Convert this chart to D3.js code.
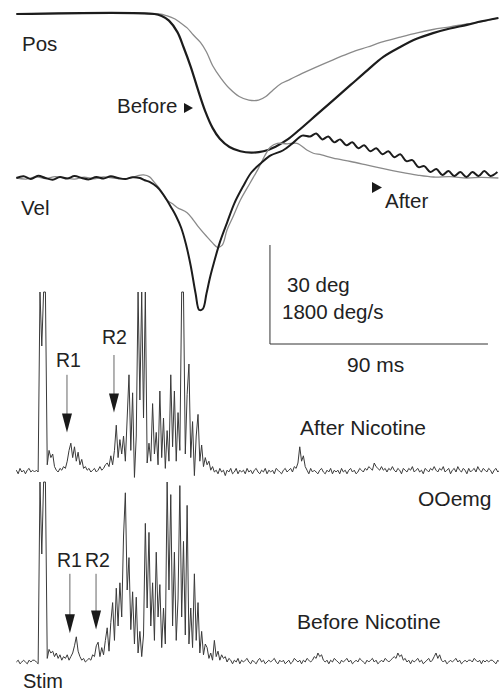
<!DOCTYPE html>
<html><head><meta charset="utf-8">
<script src="https://cdn.jsdelivr.net/npm/d3@7"></script>
<style>
html,body{margin:0;padding:0;background:#fff;}
svg{display:block;}
text{font-family:"Liberation Sans",Arial,Helvetica,sans-serif;fill:#222;}
</style></head><body>
<svg id="fig" width="499" height="693"></svg>
<script>
// Eye position (deg) against time from the stimulus (ms)
const posBefore = [[-11,0],[46,0],[49,-0.6],[52,-2],[55.5,-5.5],[58,-10],[61,-16],[64,-23],[67,-29.5],[70,-34.5],[73,-37.8],[77,-40.3],[81.5,-41.6],[86,-42],[91,-41.6],[96,-40.2],[101,-38],[106,-35],[113,-30.5],[120,-26],[127,-21.5],[134,-17],[140.5,-13],[147.5,-10],[154,-7.6],[161,-5.8],[168,-4.4],[175,-3.3],[181,-2.2],[188,-1.2]];
const posAfter = [[-11,0],[48,0],[51,-0.5],[54.5,-1.5],[57,-2.8],[59.5,-4.2],[62,-6.3],[65,-8.6],[67.5,-11.5],[70,-15.6],[73.5,-19.5],[77,-22.6],[81,-25],[85,-26.1],[89,-26.1],[92,-25],[95,-23],[98.5,-21],[102,-19.8],[107,-18],[113,-16],[120,-13.8],[127,-11.7],[134,-10],[140.5,-8.4],[147.5,-7],[154.5,-5.7],[161,-4.7],[168,-3.9],[175,-3],[181,-2.4],[188,-1.2]];

// Eye velocity (deg/s) against time (ms)
const velBefore = [[-11,0],[-8,30],[-5,-20],[-2,40],[1,0],[4,-30],[7,20],[10,-10],[13,35],[16,0],[19,-25],[22,20],[25,-10],[28,30],[31,0],[34,-20],[37,15],[40,0],[42,-40],[44,-72],[47,-160],[49,-260],[51,-390],[53,-540],[55,-700],[57,-900],[59,-1200],[61,-1600],[63,-2100],[64.5,-2400],[66,-2380],[67.5,-2100],[69,-1800],[70.5,-1550],[73,-1170],[76,-810],[79,-460],[82.5,-160],[86,100],[90,270],[94,410],[99,500],[103,630],[107,770],[110.3,756],[112.8,810],[115.3,702],[117.8,756],[120.2,648],[122.7,702],[125.2,594],[127.7,648],[130.2,540],[132.6,594],[135.1,486],[137.6,540],[140.1,432],[142.6,486],[145,378],[147.5,432],[150,306],[152.5,324],[155,198],[157.4,216],[159.9,108],[162.4,162],[164.9,54],[167.4,126],[169.8,36],[172.3,108],[174.8,18],[177.3,108],[179.8,36],[182.2,126],[184.7,36],[187.6,108]];
const velAfter = [[-11,0],[-7,-20],[-3,20],[1,-10],[5,25],[9,0],[13,-20],[17,15],[21,-15],[25,20],[29,0],[33,-15],[37,10],[39,40],[41.5,55],[44,20],[46,-80],[48.5,-216],[51,-396],[53.5,-470],[55.5,-540],[59.5,-630],[62,-760],[64,-880],[67.5,-1060],[70,-1180],[72,-1260],[74,-1220],[76,-940],[78.5,-700],[81.5,-400],[85.5,-90],[89,180],[91.5,400],[93.8,558],[96.7,630],[100.8,620],[104.9,630],[109.1,504],[111.6,450],[115,420],[119.8,360],[127,300],[133.9,234],[140.5,170],[147.5,108],[154.5,54],[161.2,18],[168,25],[175,0],[181,12],[188,0]];

// Orbicularis oculi EMG, one sample every emgStep ms from emgStart (saturates at 100)
const emgStart = -11;
const emgStep = 0.75;
const emgAfter = [1,-1,2,0,1,-1,1,2,0,1, 0,1,0,100,70,100,100,4,12,8, 10,3,1,0,2,1,3,2,6,12, 16,8,14,6,11,4,7,2,3,1, 2,0,1,2,0,1,3,1,2,4, 5,3,9,4,12,26,8,18,10,20, 6,30,54,12,44,-3,20,100,40,100, 30,100,5,16,6,38,10,22,4,45, 8,30,2,23,6,54,14,45,6,33, 12,100,100,10,43,60,8,28,-2,20, 32,6,15,3,8,4,6,1,3,0, 1,-1,2,0,1,-2,1,0,2,-1, 0,2,-1,1,0,1,-1,2,0,1, -1,1,2,0,-1,1,0,2,-1,1, 0,1,-1,2,1,0,-1,1,2,0, 1,2,0,3,2,5,14,6,9,3, 1,-1,2,0,1,0,-1,1,2,0, -1,1,0,2,-1,1,0,1,-1,2, 0,1,-1,1,2,0,1,-1,0,2, 1,0,2,1,3,2,1,5,3,2, 1,3,1,2,0,2,1,3,1,0, 2,1,-1,2,1,0,2,1,3,0, 1,2,0,1,-1,2,1,0,2,1, 3,1,0,2,1,3,0,1,2,-1, 1,2,0,3,1,0,2,1,-1,2, 0,1,2,0,3,1,0,2,1,0, 2,1,-1,1,2,0,1];
const emgBefore = [0,1,-1,0,1,0,-1,1,0,1, 1,0,-1,100,60,100,100,2,7,5, 6,3,5,2,4,1,3,2,4,1, 3,5,9,14,6,3,1,2,0,1, 2,1,4,3,9,11,3,8,4,12, 19,6,22,33,12,41,20,44,25,70, 94,40,58,18,39,10,36,5,17,3, 15,77,30,72,20,44,12,61,25,43, 8,30,10,100,40,93,20,61,12,35, 98,25,67,15,87,10,30,8,49,12, 33,5,17,4,10,8,2,5,1,12, 3,6,1,4,2,3,0,2,1,-1, 1,0,2,-1,1,0,1,2,0,-1, 1,0,-1,1,2,0,1,-1,0,1, 0,1,2,0,-1,1,0,1,-1,0, 1,-1,0,2,1,0,1,-1,1,0, 2,1,0,1,3,2,5,3,4,1, 0,1,-1,1,0,2,1,0,-1,1, 0,1,2,0,1,-1,0,1,0,2, 1,0,-1,1,0,1,2,0,1,-1, 0,1,0,2,1,0,1,2,3,2, 5,3,4,1,2,0,1,-1,1,0, 1,2,0,1,-1,0,1,2,0,1, 3,5,2,4,1,0,1,-1,0,1, 0,1,2,0,1,-1,0,1,0,1, 1,0,2,1,0,1,-1,1,0,1, 0,1,1,0,-1,1,0];

// Reflex markers: [label, time ms, arrow top, arrow tip] in EMG units
const markersAfter = [["R1", 9.9, 54, 22], ["R2", 29.3, 65, 33]];
const markersBefore = [["R1", 11.1, 49, 16], ["R2", 21.9, 49, 18]];

// Calibration bar values
const calTime = 90, calPos = 30, calVel = 1800;

const svg = d3.select("#fig");

const tx = d3.scaleLinear().domain([0, 90]).range([43, 261]);
const posY = d3.scaleLinear().domain([-30, 0]).range([113, 14]);
const velY = d3.scaleLinear().domain([-1800, 0]).range([277, 178]);
const emgAfterY = d3.scaleLinear().domain([0, 100]).range([472, 292]);
const emgBeforeY = d3.scaleLinear().domain([0, 100]).range([662, 482]);

const smoothLine = y => d3.line().x(d => tx(d[0])).y(d => y(d[1])).curve(d3.curveCatmullRom.alpha(0.5));
const emgLine = y => d3.line().x((d, i) => tx(emgStart + i * emgStep)).y(d => y(d));

// position traces
svg.append("path").attr("d", smoothLine(posY)(posAfter))
  .attr("fill", "none").attr("stroke", "#8a8a8a").attr("stroke-width", 1.3);
svg.append("path").attr("d", smoothLine(posY)(posBefore))
  .attr("fill", "none").attr("stroke", "#1c1c1c").attr("stroke-width", 2.2);

// velocity traces
svg.append("path").attr("d", smoothLine(velY)(velAfter))
  .attr("fill", "none").attr("stroke", "#8a8a8a").attr("stroke-width", 1.3);
svg.append("path").attr("d", smoothLine(velY)(velBefore))
  .attr("fill", "none").attr("stroke", "#1c1c1c").attr("stroke-width", 2);

// EMG traces
svg.append("path").attr("d", emgLine(emgAfterY)(emgAfter))
  .attr("fill", "none").attr("stroke", "#3a3a3a").attr("stroke-width", 1).attr("stroke-linejoin", "miter");
svg.append("path").attr("d", emgLine(emgBeforeY)(emgBefore))
  .attr("fill", "none").attr("stroke", "#3a3a3a").attr("stroke-width", 1).attr("stroke-linejoin", "miter");

// reflex arrows
function drawMarkers(list, y) {
  list.forEach(([label, t, top, tip]) => {
    const x = tx(t);
    const yTop = y(top), yTip = y(tip);
    svg.append("line").attr("x1", x).attr("x2", x).attr("y1", yTop).attr("y2", yTip - 16)
      .attr("stroke", "#666").attr("stroke-width", 1);
    svg.append("path").attr("d", `M${x - 5},${yTip - 19}L${x + 5},${yTip - 19}L${x},${yTip}Z`).attr("fill", "#1a1a1a");
  });
}
drawMarkers(markersAfter, emgAfterY);
drawMarkers(markersBefore, emgBeforeY);

// calibration bars
const barX = tx(93.7), barBottom = 344;
const barH = posY(-calPos) - posY(0);
const barW = tx(calTime) - tx(0);
svg.append("path").attr("d", `M${barX},${barBottom - barH}V${barBottom}H${barX + barW}`)
  .attr("fill", "none").attr("stroke", "#333").attr("stroke-width", 1);

// labels
const labels = [
  ["Pos", 22, 51, 20.5], ["Before", 117, 113, 20.5], ["Vel", 21, 215, 20.5], ["After", 385, 208, 20.5],
  [calPos + " deg", 287, 292, 20.5], [calVel + " deg/s", 282, 319, 20.5], [calTime + " ms", 347, 372, 21],
  ["R2", 102, 344, 19.5], ["R1", 56, 367, 19.5], ["After Nicotine", 300, 435, 21], ["OOemg", 418, 506, 21],
  ["R1", 57, 567, 19.5], ["R2", 85, 567, 19.5], ["Before Nicotine", 297, 629, 21], ["Stim", 23, 688, 20]
];
svg.selectAll("text.lab").data(labels).join("text").attr("class", "lab")
  .attr("x", d => d[1]).attr("y", d => d[2]).style("font-size", d => d[3] + "px").text(d => d[0]);

// pointer triangles
svg.append("path").attr("d", "M184,103L184,113L193,108Z").attr("fill", "#1a1a1a");
svg.append("path").attr("d", "M372,182L372,193L382,187.5Z").attr("fill", "#1a1a1a");
</script>
</body></html>
